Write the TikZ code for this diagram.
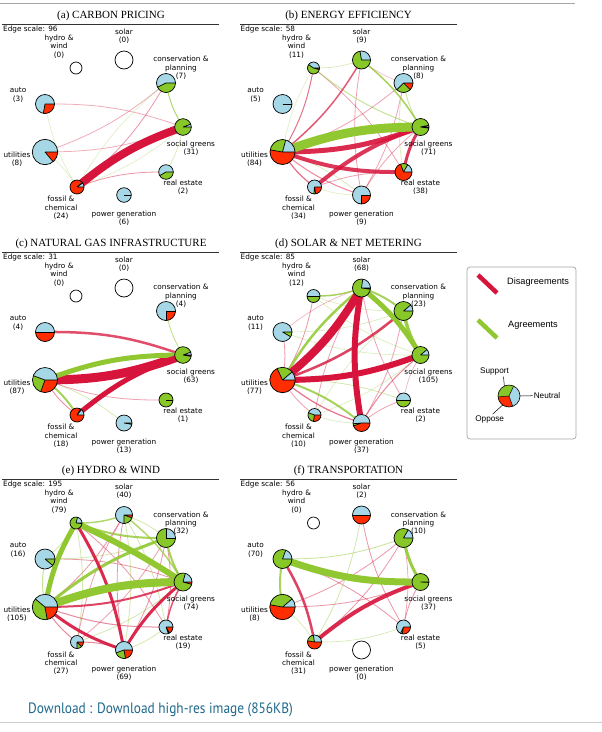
\documentclass[tikz,border=0pt]{standalone}
\usepackage{fontspec}
\usetikzlibrary{calc}
\setmainfont{DejaVu Sans}
\newfontfamily\titlefont{Liberation Serif}
\newfontfamily\legfont{Liberation Sans}
\newfontfamily\dlfont{PT Sans}
\definecolor{pred}{RGB}{255,45,0}
\definecolor{pgreen}{RGB}{135,200,40}
\definecolor{pblue}{RGB}{165,215,230}
\definecolor{ered}{RGB}{215,20,60}
\definecolor{egreen}{RGB}{145,200,50}
\definecolor{dlblue}{RGB}{30,105,140}
\tikzset{
  lab/.style={font=\fontsize{7.3}{8.3}\selectfont, align=center, inner sep=0pt},
  ttl/.style={font=\titlefont\fontsize{11}{13}\selectfont, inner sep=0pt},
  pieline/.style={draw=black, line width=0.7pt},
  leg/.style={font=\legfont\fontsize{9.2}{11}\selectfont, inner sep=0pt, anchor=west},
  legs/.style={font=\legfont\fontsize{8.2}{10}\selectfont, inner sep=0pt},
}
\newcommand\Dis[4]{\draw[ered, line width=#1pt, draw opacity=#2] (\pn#3) to[bend left=10] (\pn#4);}
\newcommand\Agr[4]{\draw[egreen, line width=#1pt, draw opacity=#2] (\pn#3) to[bend right=10] (\pn#4);}
\newcommand\pie[4]{%
  \fill[pblue] (\pn#1) circle[radius=#2];
  \fill[pred] (\pn#1) -- ++(0:#2) arc[start angle=0, delta angle=-#3, radius=#2] -- cycle;
  \fill[pgreen] (\pn#1) -- ++({-#3}:#2) arc[start angle={-#3}, delta angle={-#4}, radius=#2] -- cycle;
  \draw[pieline] (\pn#1) -- ++(0:#2) (\pn#1) -- ++({-#3}:#2) (\pn#1) -- ++({-#3-#4}:#2);
  \draw[pieline] (\pn#1) circle[radius=#2];}
\newcommand\emptypie[2]{\draw[pieline, fill=white] (\pn#1) circle[radius=#2];}
\newcommand\panelsetup[5]{%
  \def\pn{#1}\def\ox{#2}\def\oy{#3}%
  \begin{scope}[shift={(#2,-#3)}]
    \coordinate (#1H) at (76,-68);
    \coordinate (#1S) at (124,-60);
    \coordinate (#1C) at (166,-83);
    \coordinate (#1G) at (183,-127);
    \coordinate (#1R) at (166,-172);
    \coordinate (#1P) at (124,-195);
    \coordinate (#1F) at (77,-187);
    \coordinate (#1U) at (45,-152);
    \coordinate (#1A) at (45,-104);
    \node[ttl] (#1title) at (111,-16) {#4};
    \draw[line width=.8pt, black!80] (2,-24) -- (219,-24);
    \node[lab, anchor=west] (#1scale) at (3,-29.5) {Edge scale: #5};
  \end{scope}}
\newcommand\labelset[9]{%
  \begin{scope}[shift={(\ox,-\oy)}]
  \node[lab] (\pn lH) at (59,-46.5) {hydro \&\\wind\\(#1)};
  \node[lab] (\pn lS) at (124,-36) {solar\\(#2)};
  \node[lab] (\pn lC) at (181,-68) {conservation \&\\planning\\(#3)};
  \node[lab] (\pn lA) at (18,-95) {auto\\(#4)};
  \node[lab] (\pn lU) at (17,-159) {utilities\\(#5)};
  \node[lab] (\pn lG) at (191,-148.5) {social greens\\(#6)};
  \node[lab] (\pn lR) at (183,-187) {real estate\\(#7)};
  \node[lab] (\pn lF) at (61,-208) {fossil \&\\chemical\\(#8)};
  \node[lab] (\pn lP) at (124,-218) {power generation\\(#9)};
  \end{scope}}
\begin{document}
\begin{tikzpicture}[x=1pt,y=1pt]
\fill[white] (0,0) rectangle (602,-732);
\useasboundingbox (0,0) rectangle (602,-732);
\draw[black!35, line width=1pt] (0,-3.3) -- (575,-3.3);

% ---------------- (a)
\panelsetup{a}{0}{0}{(a) CARBON PRICING}{96}
\Dis{.8}{.35}{A}{G}
\Dis{.8}{.35}{G}{U}
\Dis{.8}{.35}{C}{U}
\Dis{.8}{.45}{C}{F}
\Dis{.8}{.45}{F}{R}
\Agr{1}{.7}{C}{G}
\Agr{.6}{.3}{A}{F}
\Agr{.6}{.3}{F}{U}
\Agr{.6}{.3}{C}{F}
\Agr{.6}{.4}{R}{G}
\Agr{.6}{.3}{F}{G}
\Dis{8}{1}{F}{G}
\emptypie{H}{6}
\emptypie{S}{9}
\pie{C}{9.5}{0}{154}
\pie{A}{9.5}{100}{0}
\pie{U}{12.7}{50}{0}
\pie{G}{8.3}{0}{340}
\pie{R}{7.3}{0}{150}
\pie{F}{7}{320}{5}
\pie{P}{7.3}{0}{0}
\labelset{0}{0}{7}{3}{8}{31}{2}{24}{6}

% ---------------- (b)
\panelsetup{b}{237.5}{0}{(b) ENERGY EFFICIENCY}{58}
\Dis{.8}{.4}{H}{R}
\Dis{.8}{.4}{C}{U}
\Dis{.8}{.4}{C}{P}
\Dis{.8}{.4}{P}{S}
\Dis{1}{.5}{P}{U}
\Dis{1.2}{.6}{F}{U}
\Dis{.8}{.4}{F}{R}
\Agr{.6}{.4}{P}{U}
\Dis{.8}{.4}{P}{G}
\Agr{.8}{.5}{C}{G}
\Agr{.6}{.4}{H}{S}
\Dis{.6}{.3}{C}{S}
\Agr{.6}{.4}{C}{R}
\Agr{.6}{.3}{F}{P}
\Agr{.6}{.3}{H}{U}
\Dis{1}{.6}{H}{U}
\Agr{1}{.5}{H}{G}
\Dis{1.5}{.7}{S}{U}
\Agr{1.5}{.8}{G}{S}
\Dis{3}{.85}{R}{G}
\Dis{4}{.85}{F}{G}
\Dis{4}{.85}{R}{U}
\Dis{5}{.9}{G}{U}
\Agr{9}{1}{G}{U}
\pie{H}{6}{15}{200}
\pie{S}{9}{0}{260}
\pie{C}{9.5}{45}{90}
\pie{A}{9.5}{0}{0}
\pie{U}{12.5}{190}{95}
\pie{G}{8.5}{8}{340}
\pie{R}{8.5}{250}{50}
\pie{F}{7}{80}{15}
\pie{P}{9}{90}{0}
\labelset{11}{9}{8}{5}{84}{71}{38}{34}{9}

% ---------------- (c)
\panelsetup{c}{0}{228}{(c) NATURAL GAS INFRASTRUCTURE}{31}
\Dis{.8}{.5}{F}{U}
\Dis{.8}{.4}{R}{U}
\Agr{.7}{.4}{P}{U}
\Agr{.8}{.6}{C}{G}
\Agr{2}{.8}{F}{U}
\Dis{2.5}{.75}{A}{G}
\Dis{9}{1}{G}{U}
\Agr{5}{1}{G}{U}
\Dis{5}{1}{F}{G}
\emptypie{H}{6}
\emptypie{S}{9}
\pie{C}{9.5}{90}{0}
\pie{A}{9.5}{180}{0}
\pie{U}{12.5}{110}{90}
\pie{G}{8.3}{10}{330}
\pie{R}{7}{0}{360}
\pie{F}{7}{300}{10}
\pie{P}{8}{0}{10}
\labelset{0}{0}{4}{4}{87}{63}{1}{18}{13}

% ---------------- (d)
\panelsetup{d}{237.5}{228}{(d) SOLAR \& NET METERING}{85}
\Agr{.6}{.35}{C}{F}
\Agr{.6}{.35}{A}{C}
\Agr{.6}{.35}{H}{G}
\Agr{.6}{.35}{H}{C}
\Dis{.6}{.35}{A}{S}
\Agr{.6}{.35}{A}{G}
\Agr{.6}{.35}{F}{G}
\Dis{.6}{.35}{R}{G}
\Agr{.6}{.35}{F}{P}
\Dis{.8}{.45}{H}{U}
\Dis{.8}{.45}{A}{U}
\Dis{.8}{.4}{F}{U}
\Dis{.8}{.4}{F}{S}
\Dis{1}{.5}{P}{G}
\Dis{.8}{.4}{R}{S}
\Agr{.8}{.4}{R}{U}
\Dis{.8}{.4}{P}{R}
\Dis{.8}{.4}{C}{P}
\Dis{1.2}{.6}{P}{U}
\Agr{1.5}{.8}{H}{S}
\Agr{2}{.8}{P}{U}
\Dis{2.5}{.8}{C}{U}
\Agr{2.5}{.85}{S}{U}
\Agr{2}{.8}{C}{S}
\Agr{3.5}{.9}{C}{G}
\Agr{5}{1}{G}{S}
\Dis{6}{1}{G}{U}
\Dis{6}{1}{P}{S}
\Dis{8}{1}{S}{U}
\pie{H}{6.5}{0}{180}
\pie{S}{9}{8}{270}
\pie{C}{9.5}{0}{320}
\pie{A}{9.5}{0}{30}
\pie{U}{12.7}{245}{75}
\pie{G}{8.5}{0}{320}
\pie{R}{7}{0}{180}
\pie{F}{6.5}{100}{100}
\pie{P}{8.5}{160}{15}
\labelset{12}{68}{23}{11}{77}{105}{2}{10}{37}

% ---------------- (e)
\panelsetup{e}{0}{455}{(e) HYDRO \& WIND}{195}
\Agr{.8}{.4}{A}{H}
\Dis{.8}{.45}{C}{P}
\Dis{.8}{.45}{P}{S}
\Dis{.8}{.45}{S}{U}
\Dis{.8}{.45}{H}{R}
\Agr{.8}{.4}{C}{S}
\Dis{.8}{.45}{C}{R}
\Agr{.8}{.4}{F}{G}
\Dis{.8}{.45}{A}{G}
\Agr{.8}{.4}{F}{H}
\Agr{.8}{.4}{A}{C}
\Dis{.8}{.4}{F}{S}
\Agr{.8}{.4}{R}{S}
\Dis{.8}{.4}{C}{F}
\Agr{.8}{.4}{P}{S}
\Agr{.8}{.4}{P}{R}
\Dis{1}{.5}{R}{U}
\Dis{1}{.5}{F}{U}
\Dis{1}{.5}{F}{P}
\Agr{1}{.5}{A}{U}
\Agr{1.5}{.7}{H}{S}
\Agr{1.5}{.7}{G}{S}
\Dis{1.5}{.7}{R}{G}
\Dis{2}{.8}{G}{U}
\Agr{2}{.8}{C}{G}
\Agr{2}{.8}{H}{C}
\Agr{3}{.9}{C}{U}
\Dis{3}{.9}{H}{P}
\Dis{3}{.9}{P}{U}
\Dis{3}{.9}{P}{G}
\Agr{5}{1}{H}{U}
\draw[egreen, line width=6pt] (eH) to[bend left=4] (eG);
\Agr{8}{1}{G}{U}
\pie{H}{6}{5}{280}
\pie{S}{8.5}{20}{70}
\pie{C}{9.5}{0}{270}
\pie{A}{10}{0}{40}
\pie{U}{12.7}{80}{140}
\pie{G}{9}{15}{270}
\pie{R}{7}{60}{10}
\pie{F}{6.5}{45}{45}
\pie{P}{8.5}{80}{80}
\labelset{79}{40}{32}{16}{105}{74}{19}{27}{69}

% ---------------- (f)
\panelsetup{f}{237.5}{455}{(f) TRANSPORTATION}{56}
\Agr{.8}{.5}{A}{C}
\Dis{.8}{.45}{C}{U}
\Dis{.8}{.45}{C}{F}
\Dis{.8}{.45}{A}{R}
\Dis{.8}{.45}{R}{S}
\Agr{.7}{.45}{F}{S}
\Agr{.6}{.4}{F}{U}
\Agr{.6}{.4}{F}{R}
\Dis{.8}{.45}{G}{U}
\Dis{.8}{.45}{R}{G}
\Dis{.7}{.4}{C}{R}
\Agr{2}{.8}{A}{U}
\Dis{2.5}{.8}{A}{F}
\Agr{3}{.9}{C}{G}
\Dis{4}{.9}{F}{G}
\Agr{7}{1}{A}{G}
\emptypie{H}{6}
\emptypie{P}{9}
\pie{S}{9}{180}{0}
\pie{C}{9.5}{0}{300}
\pie{A}{9.5}{0}{290}
\pie{U}{12.7}{190}{130}
\pie{G}{8.5}{3}{357}
\pie{R}{7}{100}{15}
\pie{F}{7}{190}{70}
\labelset{0}{2}{10}{70}{8}{37}{5}{31}{0}

% ---------------- legend
\draw[black!35, line width=.7pt, rounded corners=3pt] (467,-267) rectangle (576,-439);
\draw[ered, line width=4.5pt] (478,-275) -- (497,-293);
\node[leg] (legD) at (507,-282) {Disagreements};
\draw[egreen, line width=4.5pt] (478,-320) -- (497,-338);
\node[leg] (legA) at (508,-325) {Agreements};
\coordinate (lp) at (509,-396);
\fill[pgreen] (lp) -- ++(65:11) arc[start angle=65, end angle=185, radius=11] -- cycle;
\fill[pred] (lp) -- ++(185:11) arc[start angle=185, end angle=290, radius=11] -- cycle;
\fill[pblue] (lp) -- ++(290:11) arc[start angle=290, end angle=425, radius=11] -- cycle;
\draw[black, line width=.5pt] (lp) -- ++(65:11) (lp) -- ++(185:11) (lp) -- ++(290:11);
\draw[black, line width=.6pt] (lp) circle[radius=11];
\node[legs] (legS) at (494.5,-371.7) {Support};
\node[legs] (legN) at (547,-395.7) {Neutral};
\node[legs] (legO) at (489.7,-419) {Oppose};
\draw[black, line width=.5pt] ($(legS.south)+(9,-1)$) -- ($(lp)+(115:11)$);
\draw[black, line width=.5pt] ($(lp)+(0:11)$) -- ($(legN.west)+(-1,0)$);
\draw[black, line width=.5pt] ($(lp)+(235:11)$) -- ($(legO.north)+(3,1)$);

% ---------------- download
\node[anchor=west, inner sep=0pt, text=dlblue] (dl) at (28,-710)
  {\scalebox{0.89}[1]{\dlfont\fontsize{15}{17}\selectfont Download : Download high-res image (856KB)}};
\draw[black!20, line width=1pt] (0,-722) -- (602,-722);
\end{tikzpicture}
\end{document}
